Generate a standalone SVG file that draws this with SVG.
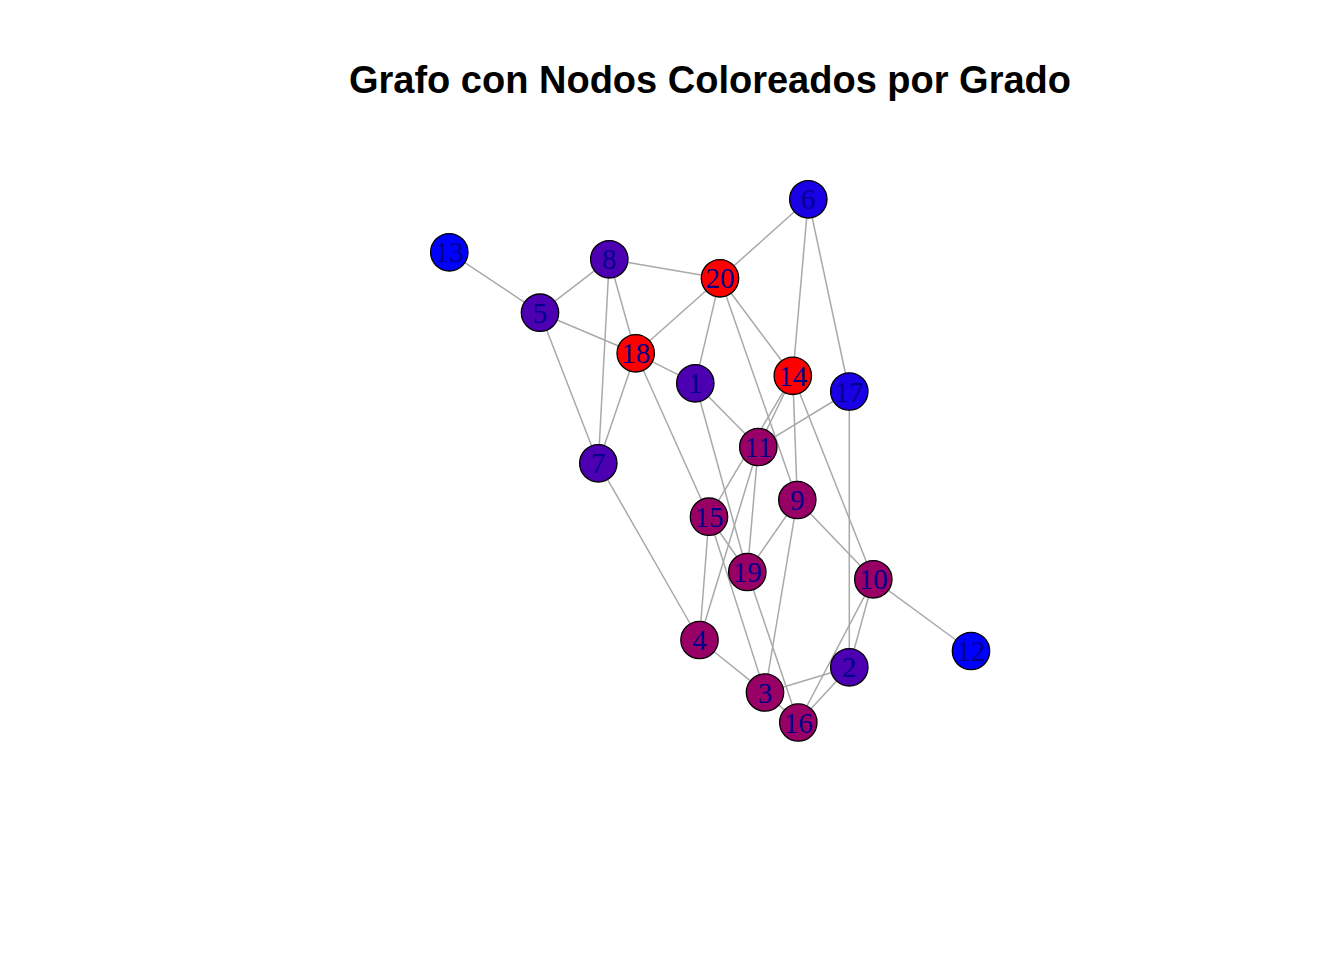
<svg xmlns="http://www.w3.org/2000/svg" width="1344" height="960" viewBox="0 0 1344 960">
<style>
.e{stroke:#A9A9A9;stroke-width:1.5;fill:none}
.n{stroke:#000;stroke-width:1.3}
.l{font-family:"Liberation Serif","Times New Roman",serif;font-size:29px;fill:#00008B;text-anchor:middle}
.d1{fill:#0000FF}.d3{fill:#1A00E5}.d4{fill:#4C00B2}.d5{fill:#990066}.d6{fill:#FF0000}
.t{font-family:"Liberation Sans",Arial,sans-serif;font-size:38px;font-weight:bold;fill:#000;text-anchor:middle}
</style>
<rect width="1344" height="960" fill="#fff"/>
<text class="t" x="710" y="93">Grafo con Nodos Coloreados por Grado</text>
<g id="edges">
<line class="e" x1="449.3" y1="252.3" x2="540" y2="312.7"/>
<line class="e" x1="540" y1="312.7" x2="609.3" y2="259.3"/>
<line class="e" x1="540" y1="312.7" x2="635.7" y2="353.3"/>
<line class="e" x1="540" y1="312.7" x2="598.3" y2="463.3"/>
<line class="e" x1="609.3" y1="259.3" x2="720" y2="278.3"/>
<line class="e" x1="609.3" y1="259.3" x2="598.3" y2="463.3"/>
<line class="e" x1="609.3" y1="259.3" x2="635.7" y2="353.3"/>
<line class="e" x1="720" y1="278.3" x2="808.3" y2="199.3"/>
<line class="e" x1="720" y1="278.3" x2="635.7" y2="353.3"/>
<line class="e" x1="720" y1="278.3" x2="695.3" y2="383.3"/>
<line class="e" x1="720" y1="278.3" x2="797.3" y2="500"/>
<line class="e" x1="720" y1="278.3" x2="792.8" y2="375.8"/>
<line class="e" x1="808.3" y1="199.3" x2="792.8" y2="375.8"/>
<line class="e" x1="808.3" y1="199.3" x2="849.3" y2="391.5"/>
<line class="e" x1="635.7" y1="353.3" x2="695.3" y2="383.3"/>
<line class="e" x1="635.7" y1="353.3" x2="598.3" y2="463.3"/>
<line class="e" x1="635.7" y1="353.3" x2="709" y2="516.7"/>
<line class="e" x1="695.3" y1="383.3" x2="758.3" y2="447"/>
<line class="e" x1="695.3" y1="383.3" x2="747.3" y2="572"/>
<line class="e" x1="792.8" y1="375.8" x2="758.3" y2="447"/>
<line class="e" x1="792.8" y1="375.8" x2="709" y2="516.7"/>
<line class="e" x1="792.8" y1="375.8" x2="797.3" y2="500"/>
<line class="e" x1="792.8" y1="375.8" x2="873.3" y2="579.3"/>
<line class="e" x1="849.3" y1="391.5" x2="758.3" y2="447"/>
<line class="e" x1="849.3" y1="391.5" x2="849.3" y2="667.3"/>
<line class="e" x1="758.3" y1="447" x2="747.3" y2="572"/>
<line class="e" x1="758.3" y1="447" x2="699.5" y2="640"/>
<line class="e" x1="797.3" y1="500" x2="747.3" y2="572"/>
<line class="e" x1="797.3" y1="500" x2="873.3" y2="579.3"/>
<line class="e" x1="797.3" y1="500" x2="765" y2="692.5"/>
<line class="e" x1="709" y1="516.7" x2="699.5" y2="640"/>
<line class="e" x1="709" y1="516.7" x2="747.3" y2="572"/>
<line class="e" x1="709" y1="516.7" x2="765" y2="692.5"/>
<line class="e" x1="747.3" y1="572" x2="798.3" y2="722.5"/>
<line class="e" x1="699.5" y1="640" x2="765" y2="692.5"/>
<line class="e" x1="765" y1="692.5" x2="849.3" y2="667.3"/>
<line class="e" x1="765" y1="692.5" x2="798.3" y2="722.5"/>
<line class="e" x1="849.3" y1="667.3" x2="798.3" y2="722.5"/>
<line class="e" x1="873.3" y1="579.3" x2="849.3" y2="667.3"/>
<line class="e" x1="873.3" y1="579.3" x2="798.3" y2="722.5"/>
<line class="e" x1="873.3" y1="579.3" x2="971" y2="651"/>
<line class="e" x1="598.3" y1="463.3" x2="699.5" y2="640"/>
</g>
<g id="n1"><circle class="n d4" cx="695.3" cy="383.3" r="18.7"/></g>
<g id="n2"><circle class="n d4" cx="849.3" cy="667.3" r="18.7"/></g>
<g id="n3"><circle class="n d5" cx="765" cy="692.5" r="18.7"/></g>
<g id="n4"><circle class="n d5" cx="699.5" cy="640" r="18.7"/></g>
<g id="n5"><circle class="n d4" cx="540" cy="312.7" r="18.7"/></g>
<g id="n6"><circle class="n d3" cx="808.3" cy="199.3" r="18.7"/></g>
<g id="n7"><circle class="n d4" cx="598.3" cy="463.3" r="18.7"/></g>
<g id="n8"><circle class="n d4" cx="609.3" cy="259.3" r="18.7"/></g>
<g id="n9"><circle class="n d5" cx="797.3" cy="500" r="18.7"/></g>
<g id="n10"><circle class="n d5" cx="873.3" cy="579.3" r="18.7"/></g>
<g id="n11"><circle class="n d5" cx="758.3" cy="447" r="18.7"/></g>
<g id="n12"><circle class="n d1" cx="971" cy="651" r="18.7"/></g>
<g id="n13"><circle class="n d1" cx="449.3" cy="252.3" r="18.7"/></g>
<g id="n14"><circle class="n d6" cx="792.8" cy="375.8" r="18.7"/></g>
<g id="n15"><circle class="n d5" cx="709" cy="516.7" r="18.7"/></g>
<g id="n16"><circle class="n d5" cx="798.3" cy="722.5" r="18.7"/></g>
<g id="n17"><circle class="n d3" cx="849.3" cy="391.5" r="18.7"/></g>
<g id="n18"><circle class="n d6" cx="635.7" cy="353.3" r="18.7"/></g>
<g id="n19"><circle class="n d5" cx="747.3" cy="572" r="18.7"/></g>
<g id="n20"><circle class="n d6" cx="720" cy="278.3" r="18.7"/></g>
<g id="labels">
<text class="l" x="695.3" y="393.3">1</text>
<text class="l" x="849.3" y="677.3">2</text>
<text class="l" x="765" y="702.5">3</text>
<text class="l" x="699.5" y="650">4</text>
<text class="l" x="540" y="322.7">5</text>
<text class="l" x="808.3" y="209.3">6</text>
<text class="l" x="598.3" y="473.3">7</text>
<text class="l" x="609.3" y="269.3">8</text>
<text class="l" x="797.3" y="510">9</text>
<text class="l" x="873.3" y="589.3">10</text>
<text class="l" x="758.3" y="457">11</text>
<text class="l" x="971" y="661">12</text>
<text class="l" x="449.3" y="262.3">13</text>
<text class="l" x="792.8" y="385.8">14</text>
<text class="l" x="709" y="526.7">15</text>
<text class="l" x="798.3" y="732.5">16</text>
<text class="l" x="849.3" y="401.5">17</text>
<text class="l" x="635.7" y="363.3">18</text>
<text class="l" x="747.3" y="582">19</text>
<text class="l" x="720" y="288.3">20</text>
</g>
</svg>
